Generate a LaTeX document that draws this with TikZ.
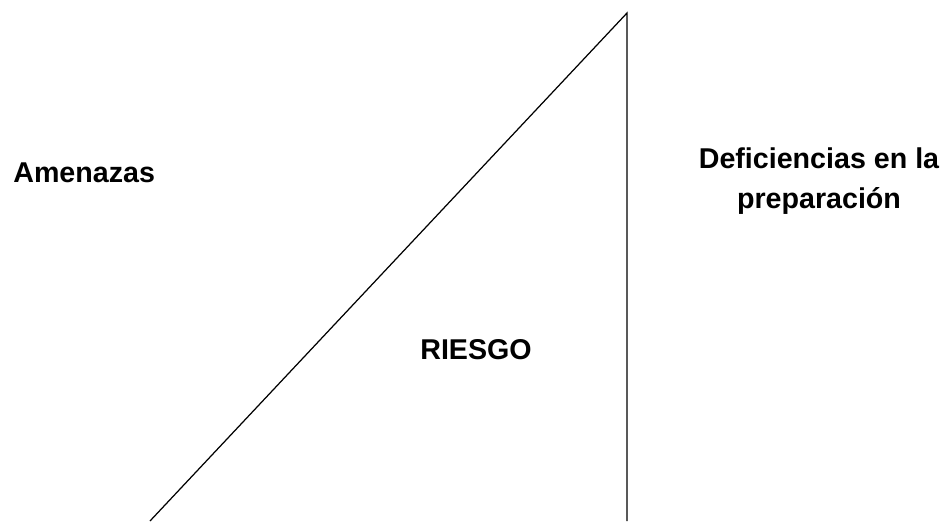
\documentclass[tikz,border=0pt]{standalone}
\usepackage{fontspec}
\setmainfont{Liberation Sans}
\usetikzlibrary{positioning}
\tikzset{label/.style={inner sep=0pt,font=\fontsize{16.3}{22.7}\selectfont\bfseries}}
\begin{document}
\begin{tikzpicture}[x=0.02cm,y=-0.02cm]
  \useasboundingbox (0,0) rectangle (947,521);
  \coordinate (top) at (627,13);
  \coordinate (base) at (150,521);
  \coordinate (foot) at (627,521);
  \draw[line width=0.7pt] (base)--(top)--(foot);
  \node[label,anchor=base west] (amenazas) at (13,182) {Amenazas};
  \node[label,anchor=base west] (riesgo) at (420,359) {RIESGO};
  % last line sits on the anchor
  \node[label,align=center,anchor=base] (deficiencias) at (819,208) {Deficiencias en la\\preparación};
\end{tikzpicture}
\end{document}
